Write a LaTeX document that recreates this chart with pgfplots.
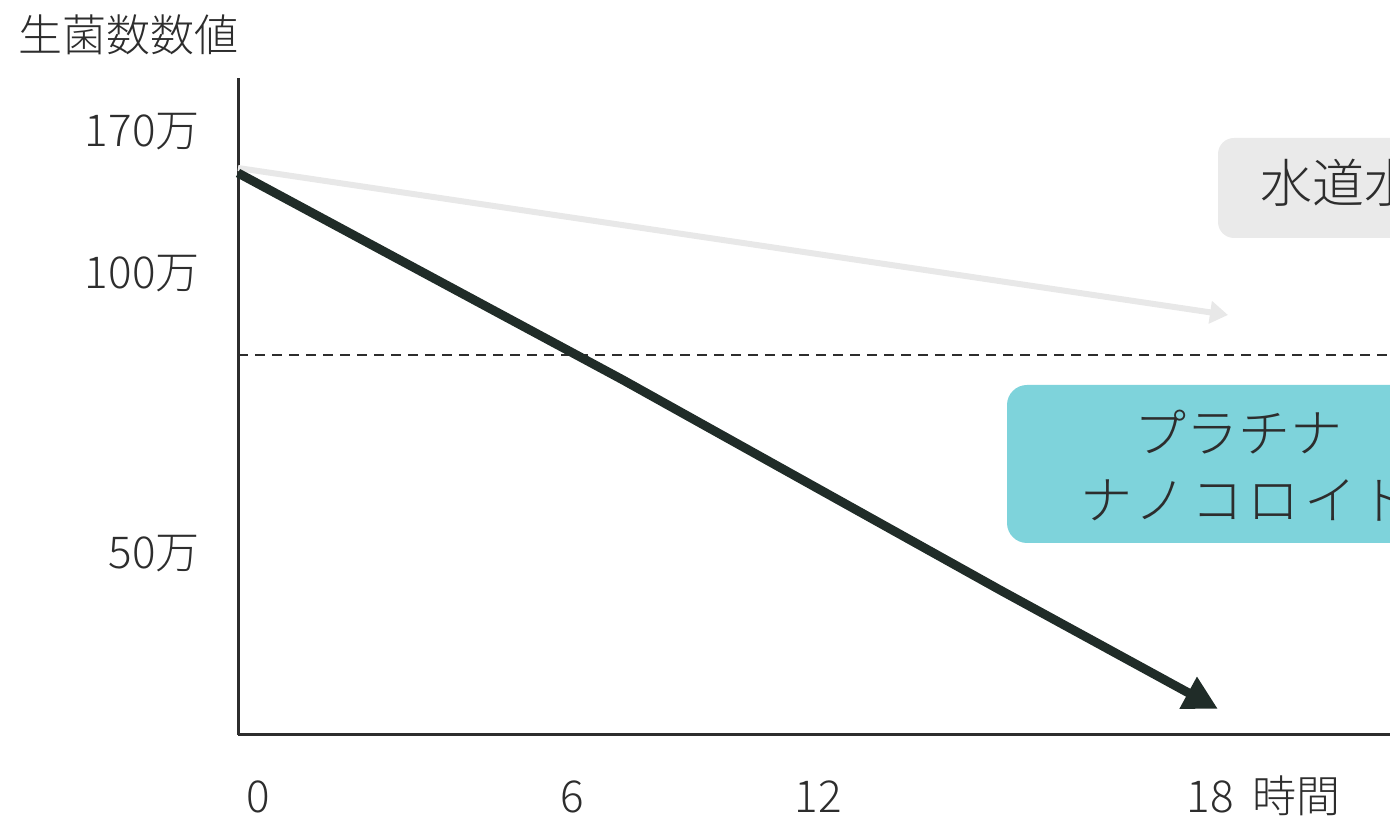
\documentclass[border=0pt]{standalone}
\usepackage{fontspec}
\setmainfont{Noto Sans CJK JP}[UprightFont=* Light]
\newfontfamily\boxfam{Noto Sans CJK JP}[UprightFont=* Light]
\newfontfamily\boxfamwide{Noto Sans CJK JP}[UprightFont=* Light, LetterSpace=9]
\usepackage{pgfplots}
\pgfplotsset{compat=1.18}
\usetikzlibrary{arrows.meta}
\definecolor{ink}{RGB}{45,45,45}
\definecolor{darkline}{RGB}{32,44,40}
\definecolor{lightline}{RGB}{232,232,232}
\definecolor{boxgray}{RGB}{234,234,234}
\definecolor{boxteal}{RGB}{126,211,219}
\begin{document}
\begin{tikzpicture}
\path[use as bounding box] (0,0) rectangle (695pt,409pt);
\begin{axis}[
  at={(119pt,41.5pt)}, anchor=south west,
  scale only axis, width=576pt, height=328.5pt,
  xmin=238, xmax=1390, ymin=83, ymax=740,
  axis x line=bottom, axis y line=left,
  axis line style={-, line width=1.5pt, draw=ink},
  clip=false,
  xtick={258,572,818,1210}, xticklabels={0,6,12,18},
  ytick={266,546,688}, yticklabels={50万,100万,170万},
  major tick length=0pt,
  tick label style={font=\fontsize{22}{26}\selectfont, text=ink},
  xticklabel style={anchor=base, yshift=-38.5pt, inner sep=0pt},
  yticklabel style={anchor=base east, xshift=-19pt, yshift=-8.5pt, inner sep=0pt},
]
% boxes
\fill[boxgray, rounded corners=8pt] (axis cs:1218,580) rectangle (axis cs:1480,680);
\fill[boxteal, rounded corners=10pt] (axis cs:1007,275) rectangle (axis cs:1480,433);
% tap water (light arrow)
\addplot[lightline, line width=3pt, -{Triangle[width=11pt,length=9pt]}] coordinates {(238,650) (1228,503)};
% threshold
\addplot[ink, line width=1pt, dash pattern=on 5pt off 3.5pt] coordinates {(238,463) (1390,463)};
% platinum nanocolloid (dark arrow)
\addplot[darkline, line width=4.5pt, line join=round, -{Triangle[width=17pt,length=17pt]}] coordinates {(238,645) (623,438) (1000,228) (1218,109)};
% texts
\node[anchor=west, inner sep=0pt, text=ink, font=\boxfam\fontsize{26}{30}\selectfont] at (axis cs:1260,635) {水道水};
\node[inner sep=0pt, text=ink, font=\boxfam\fontsize{26}{30}\selectfont] at (axis cs:1238,386) {プラチナ};
\node[anchor=west, inner sep=0pt, text=ink, font=\boxfamwide\fontsize{26}{30}\selectfont] at (axis cs:1080,318) {ナノコロイド};
\node[anchor=base, inner sep=0pt, text=ink, font=\fontsize{22}{26}\selectfont] at (axis cs:1296,83) [yshift=-38.5pt] {時間};
\node[anchor=west, inner sep=0pt, text=ink, font=\fontsize{22}{26}\selectfont] at (axis cs:18,783) {生菌数数値};
\end{axis}
\end{tikzpicture}
\end{document}
